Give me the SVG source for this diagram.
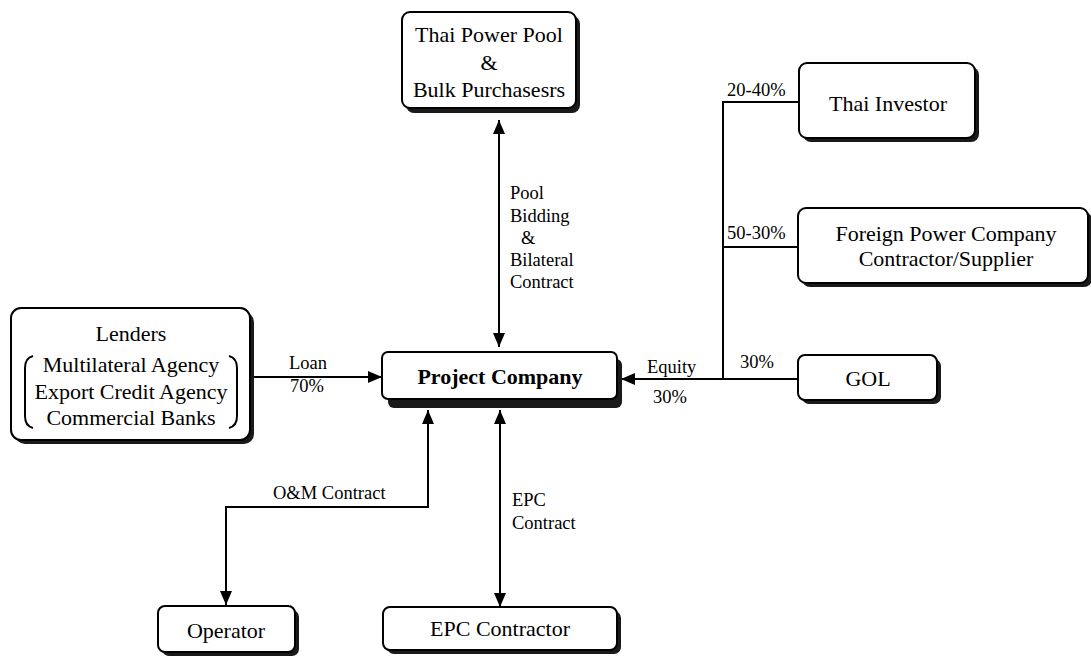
<svg xmlns="http://www.w3.org/2000/svg" width="1091" height="657" viewBox="0 0 1091 657">
<style>
.box{fill:#fff;stroke:#000;stroke-width:2}
.sh{fill:#1a1a1a}
.nt{font-family:'Liberation Serif',serif;font-size:22px;fill:#000;text-anchor:middle;dominant-baseline:central}
.lb{font-family:'Liberation Serif',serif;font-size:18.5px;fill:#000;dominant-baseline:central}
.ln{fill:none;stroke:#000;stroke-width:2}
</style>
<defs>
<marker id="ah" viewBox="0 0 14 12" refX="14" refY="6" markerWidth="14" markerHeight="12" markerUnits="userSpaceOnUse" orient="auto-start-reverse">
<path d="M0,0 L14,6 L0,12 Z" fill="#000"/>
</marker>
</defs>
<rect width="1091" height="657" fill="#fff"/>

<g id="connectors">
<line class="ln" x1="499" y1="120" x2="499" y2="347" marker-start="url(#ah)" marker-end="url(#ah)"/>
<line class="ln" x1="252" y1="377" x2="382" y2="377" marker-end="url(#ah)"/>
<line class="ln" x1="797" y1="379" x2="621" y2="379" marker-end="url(#ah)"/>
<polyline class="ln" points="799,102 723,102 723,379"/>
<line class="ln" x1="723" y1="247" x2="798" y2="247"/>
<polyline class="ln" points="226,605 226,507 428,507 428,410" marker-start="url(#ah)" marker-end="url(#ah)"/>
<line class="ln" x1="500" y1="410" x2="500" y2="607" marker-start="url(#ah)" marker-end="url(#ah)"/>
<text class="lb" x="510" y="193">Pool</text>
<text class="lb" x="510" y="216">Bidding</text>
<text class="lb" x="521" y="238">&amp;</text>
<text class="lb" x="510" y="260">Bilateral</text>
<text class="lb" x="510" y="282">Contract</text>
<text class="lb" x="289" y="363">Loan</text>
<text class="lb" x="290" y="386">70%</text>
<text class="lb" x="647" y="367">Equity</text>
<text class="lb" x="653" y="397">30%</text>
<text class="lb" x="740" y="362">30%</text>
<text class="lb" x="727" y="90">20-40%</text>
<text class="lb" x="727" y="233">50-30%</text>
<text class="lb" x="273" y="493">O&amp;M Contract</text>
<text class="lb" x="512" y="500">EPC</text>
<text class="lb" x="512" y="523">Contract</text>
</g>

<g id="thai-power-pool">
<rect class="sh" x="406" y="16" width="174" height="97" rx="8"/>
<rect class="box" x="402" y="12" width="174" height="96" rx="8"/>
<text class="nt" x="489" y="34">Thai Power Pool</text>
<text class="nt" x="489" y="62">&amp;</text>
<text class="nt" x="489" y="89">Bulk Purchasesrs</text>
</g>

<g id="thai-investor">
<rect class="sh" x="803" y="67" width="176" height="75" rx="8"/>
<rect class="box" x="799" y="63" width="176" height="75" rx="8"/>
<text class="nt" x="888" y="103">Thai Investor</text>
</g>

<g id="foreign-power">
<rect class="sh" x="802" y="212" width="290" height="75" rx="8"/>
<rect class="box" x="798" y="208" width="290" height="75" rx="8"/>
<text class="nt" x="946" y="233">Foreign Power Company</text>
<text class="nt" x="946" y="258">Contractor/Supplier</text>
</g>

<g id="lenders">
<rect class="sh" x="15" y="312" width="239" height="132" rx="10"/>
<rect class="box" x="11" y="308" width="239" height="132" rx="10"/>
<text class="nt" x="131" y="333">Lenders</text>
<text class="nt" x="131" y="364">Multilateral Agency</text>
<text class="nt" x="131" y="391">Export Credit Agency</text>
<text class="nt" x="131" y="417">Commercial Banks</text>
<path class="ln" stroke-width="1.5" d="M33,356 Q25,358 25,368 L25,416 Q25,426 33,428"/>
<path class="ln" stroke-width="1.5" d="M229,356 Q237,358 237,368 L237,416 Q237,426 229,428"/>
</g>

<g id="project-company">
<rect class="sh" x="388" y="359" width="234" height="49" rx="6"/>
<rect class="box" x="382" y="352" width="235" height="47" rx="6"/>
<text class="nt" x="500" y="376" font-weight="bold">Project Company</text>
</g>

<g id="gol">
<rect class="sh" x="802" y="359" width="139" height="45" rx="7"/>
<rect class="box" x="798" y="355" width="139" height="45" rx="7"/>
<text class="nt" x="868" y="378">GOL</text>
</g>

<g id="operator">
<rect class="sh" x="162" y="610" width="137" height="46" rx="7"/>
<rect class="box" x="158" y="606" width="137" height="46" rx="7"/>
<text class="nt" x="226" y="630">Operator</text>
</g>

<g id="epc-contractor">
<rect class="sh" x="387" y="611" width="234" height="43" rx="7"/>
<rect class="box" x="383" y="607" width="234" height="43" rx="7"/>
<text class="nt" x="500" y="628">EPC Contractor</text>
</g>
</svg>
